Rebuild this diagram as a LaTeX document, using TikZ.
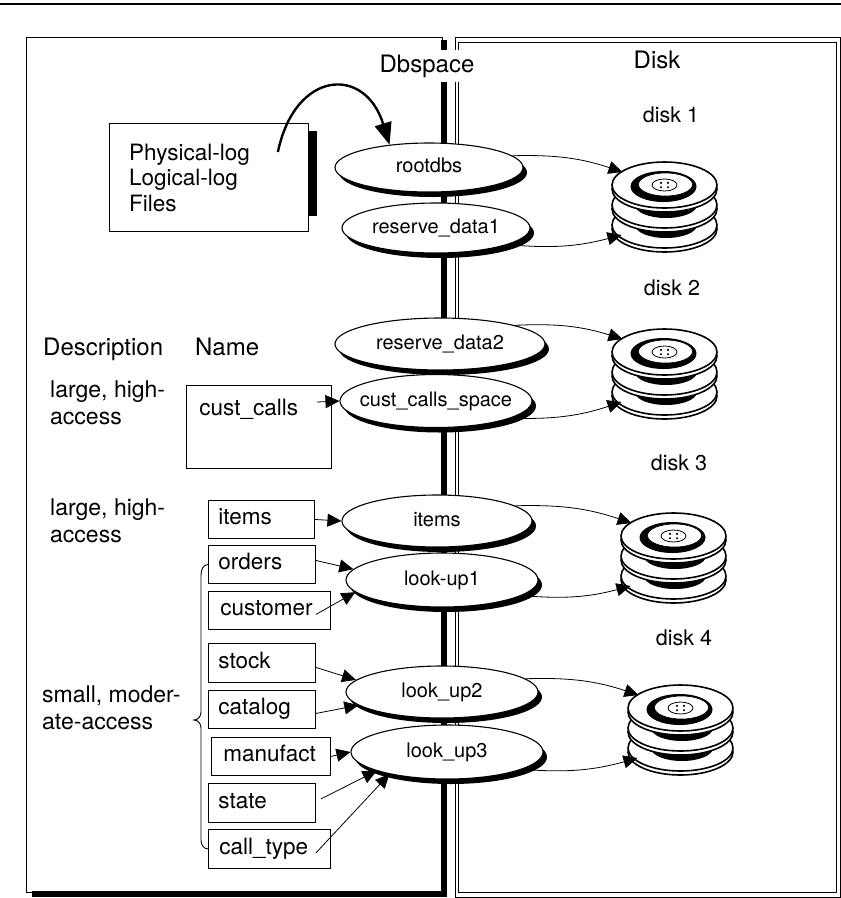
\documentclass[tikz,border=0pt]{standalone}
\usepackage{fontspec}
\setmainfont{TeX Gyre Heros}
\usetikzlibrary{arrows.meta,shadows,shapes.geometric,calc}

\tikzset{
  big/.style={font=\fontsize{24}{28}\selectfont, inner sep=0pt},
  lbl/.style={font=\fontsize{23}{27}\selectfont, inner sep=0pt, align=left},
  dsklbl/.style={font=\fontsize{21.5}{25}\selectfont, inner sep=0pt},
  nbox/.style={draw, line width=0.9pt, font=\fontsize{22.5}{26}\selectfont, align=left,
     text height=16pt, text depth=5pt, inner ysep=8.5pt, inner xsep=10pt, anchor=north west},
  dbs/.style={ellipse, draw, line width=1.1pt, fill=white, inner sep=0pt,
     font=\fontsize{20}{24}\selectfont, text height=14pt, text depth=4pt,
     drop shadow={shadow xshift=4pt, shadow yshift=-5pt, fill=black, opacity=1}},
  link/.style={line width=0.8pt, -{Triangle[length=14pt,width=13pt]}},
  platter/.style={fill=white, draw, line width=1.6pt},
  frame/.style={line width=0.9pt},
}

% a stack of three platters; #1 name prefix, (#2,#3) centre of the top platter
\newcommand\diskstack[3]{%
  \begin{scope}[shift={(#2,#3)}]
    \foreach \k in {2,1} {
      \draw[platter] (0,-20*\k-4) ellipse [x radius=52.5, y radius=23];
      \draw[platter] (0,-20*\k) ellipse [x radius=52.5, y radius=23];
      \fill (1.5,-20*\k) ellipse [x radius=31, y radius=13];
    }
    \draw[platter] (0,-4) ellipse [x radius=52.5, y radius=23];
    \draw[platter] (0,0) ellipse [x radius=52.5, y radius=23];
    \fill (-1,-1.5) ellipse [x radius=33, y radius=15.5];
    \draw[fill=white, line width=0.6pt] (1,0.5) ellipse [x radius=27, y radius=11.5];
    \draw[line width=0.8pt] (0,0) ellipse [x radius=12.5, y radius=6];
    \foreach \dx in {-3.5,3.5} \foreach \dy in {-2.2,2.2} \fill (\dx,\dy) circle (1.2);
  \end{scope}
  \coordinate (#1in) at (#2-42,#3+13);
  \coordinate (#1out) at (#2-43,#3-50);
}
\newcommand\ctext[1]{\makebox[0pt]{#1}}

\begin{document}
\begin{tikzpicture}[x=1pt,y=1pt]
\useasboundingbox (0,0) rectangle (841,-898);

% rule across the top of the page
\draw[line width=2pt] (0,-4) -- (841,-4);

% left panel with heavy shadow on the right and bottom
\draw[frame] (26,-37) rectangle (442,-892);
\fill (441,-40) rectangle (447,-897);
\fill (32,-891) rectangle (447,-897);

% right panel with a double border
\draw[frame] (455,-37) rectangle (840,-897);
\draw[frame] (458,-42) rectangle (836,-892);

% column headings
\node[big, fill=white, inner xsep=3pt, inner ysep=5pt, anchor=base] (dbsp) at (427,-72) {Dbspace};
\node[big, anchor=base] (diskhead) at (657,-68) {Disk};

% log files box
\node[draw, frame, minimum width=199pt, minimum height=108pt, inner sep=0pt, anchor=north west] (plog) at (109,-123) {};
\fill ($(plog.north east)+(0,-8)$) rectangle ($(plog.south east)+(8,16)$);
\node[lbl, font=\fontsize{22.5}{25.5}\selectfont, anchor=north west] (plogtxt) at (129,-143.8) {Physical-log\\Logical-log\\Files};

% left column labels
\node[big, anchor=base west] (desc) at (43,-355) {Description};
\node[big, anchor=base west] (name) at (195,-355) {Name};
\node[lbl, anchor=north west] (grpA) at (50,-380.5) {large, high-\\access};
\node[lbl, anchor=north west] (grpB) at (50,-498.5) {large, high-\\access};
\node[lbl, anchor=north west] (grpC) at (42,-685.5) {small, moder-\\ate-access};

% table boxes
\node[nbox, text width=119pt, inner xsep=13pt, text depth=39pt, inner ysep=14pt] (custcalls) at (186,-385) {cust\_calls};
\node[nbox, text width=86pt] (items) at (208,-500) {items};
\node[nbox, text width=87pt] (orders) at (208,-545) {orders};
\node[nbox, text width=98pt, inner xsep=12pt] (customer) at (208,-591) {customer};
\node[nbox, text width=87pt, inner ysep=9pt] (stock) at (208,-643) {stock};
\node[nbox, text width=87pt] (catalog) at (208,-690) {catalog};
\node[nbox, text width=95pt, inner xsep=12pt] (manufact) at (211,-737) {manufact};
\node[nbox, text width=87pt, inner ysep=9pt] (state) at (208,-783) {state};
\node[nbox, text width=100pt, inner xsep=11pt, inner ysep=9pt] (calltype) at (208,-829) {call\_type};

% brace grouping the small tables
\draw[line width=0.9pt] (orders.west) to[out=180,in=90] (201,-575) -- (201,-712)
  to[out=270,in=0] (194,-720) to[out=0,in=90] (201,-728) -- (201,-840)
  to[out=270,in=180] (calltype.west);

% dbspaces
\node[dbs, minimum width=188pt, minimum height=49pt] (rootdbs) at (429,-167.5) {\ctext{rootdbs}};
\node[dbs, minimum width=188pt, minimum height=50pt] (rsvA) at (436,-228) {\ctext{reserve\_data1}};
\node[dbs, minimum width=210pt, minimum height=52pt] (rsvB) at (440,-344) {\ctext{reserve\_data2}};
\node[dbs, minimum width=192pt, minimum height=53pt] (ccspace) at (436,-401) {\ctext{cust\_calls\_space}};
\node[dbs, minimum width=190pt, minimum height=52pt] (itemsdbs) at (437,-521) {\ctext{items}};
\node[dbs, minimum width=192pt, minimum height=54pt] (lookA) at (442,-580) {\ctext{look-up1}};
\node[dbs, minimum width=192pt, minimum height=52pt] (lookB) at (442,-692) {\ctext{look\_up2}};
\node[dbs, minimum width=192pt, minimum height=54pt] (lookC) at (447,-752) {\ctext{look\_up3}};

% disks
\diskstack{dA}{664.5}{-185}
\diskstack{dB}{664.5}{-352}
\diskstack{dC}{673.5}{-536}
\diskstack{dD}{680.5}{-708}
\node[dsklbl, anchor=base] (labA) at (671,-122) {disk 1};
\node[dsklbl, anchor=base] (labB) at (672,-295) {disk 2};
\node[dsklbl, anchor=base] (labC) at (679,-470) {disk 3};
\node[dsklbl, anchor=base] (labD) at (684,-645) {disk 4};

% log files go to the root dbspace
\coordinate (arcstart) at ($(plog.north east)+(-31,-29)$);
\draw[line width=2.4pt, -{Triangle[length=22pt,width=17pt]}] (arcstart) .. controls (295,-70) and (365,-65) .. (rootdbs.150);

% dbspaces onto disks
\draw[link] (rootdbs.8) to[bend left=10] (dAin);
\draw[link] (rsvA.-13) to[bend right=10] (dAout);
\draw[link] (rsvB.14) to[bend left=10] (dBin);
\draw[link] (ccspace.-13) to[bend right=10] (dBout);
\draw[link] (itemsdbs.11) to[bend left=10] (dCin);
\draw[link] (lookA.-11) to[bend right=10] (dCout);
\draw[link] (lookB.9) to[bend left=10] (dDin);
\draw[link] (lookC.-13) to[bend right=10] (dDout);

% tables into dbspaces
\draw[link] ($(custcalls.north east)+(-15,-17)$) -- (ccspace.west);
\draw[link] (items.east) -- (itemsdbs.west);
\draw[link] ($(orders.east)+(0,4)$) -- (lookA.173);
\draw[link] ($(customer.east)+(-15,-4)$) -- (lookA.188);
\draw[link] ($(stock.east)+(0,-4.5)$) -- (lookB.172);
\draw[link] ($(catalog.east)+(0,-4)$) -- (lookB.189);
\draw[link] (manufact.east) -- (lookC.west);
\draw[link] ($(state.east)+(5,4)$) -- (lookC.195);
\draw[link] ($(calltype.east)+(-15,-4)$) -- (lookC.201);
\end{tikzpicture}
\end{document}
